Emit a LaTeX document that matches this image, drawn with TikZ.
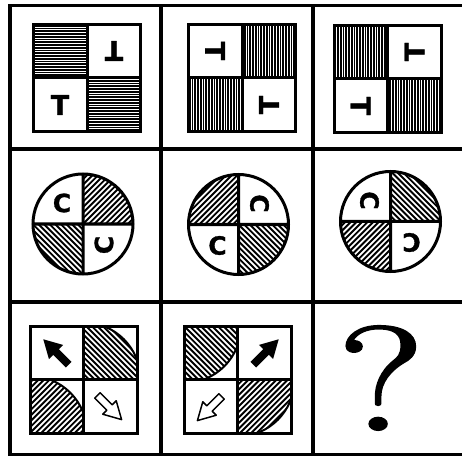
\documentclass[tikz,border=0pt]{standalone}
\usepackage{fontspec}
\usepackage{tikz}
\newfontface\heavysans{DejaVu Sans Bold}[FakeBold=1.2]
\newfontface\qmarkfont{Latin Modern Roman}[FakeBold=1.5]

\newcommand{\hatchin}[2]{%
  \begin{scope}
    \clip #1;
    \foreach \k in {-26,...,26}
      \draw[hatchline] ({\k*5.6-70},{-70*#2}) -- ({\k*5.6+70},{70*#2});
  \end{scope}}
\newcommand{\hstripes}[1]{%
  \begin{scope}
    \clip #1;
    \foreach \k in {-22,...,22}
      \draw[stripe] (-60,{\k*2.75}) -- (60,{\k*2.75});
  \end{scope}}
\newcommand{\vstripes}[1]{%
  \begin{scope}
    \clip #1;
    \foreach \k in {-22,...,22}
      \draw[stripe] ({\k*2.75},-60) -- ({\k*2.75},60);
  \end{scope}}
\newcommand{\arrowpath}{(-18,-4) -- (0,-4) -- (0,-10) -- (18,0) -- (0,10) -- (0,4) -- (-18,4) -- cycle}

\begin{document}
\begin{tikzpicture}[x=1pt,y=1pt,
    gridline/.style={line width=3.2pt},
    frame/.style={line width=3pt},
    stripe/.style={line width=1.6pt},
    hatchline/.style={line width=1.9pt},
    arcline/.style={line width=2pt},
    letter/.style={font=\heavysans\fontsize{27}{27}\selectfont,inner sep=0pt},
    cletter/.style={font=\heavysans\fontsize{25}{25}\selectfont,inner sep=0pt},
    solidarrow/.style={fill=black},
    hollowarrow/.style={fill=white,draw=black,line width=1.5pt,line join=round}]
  \useasboundingbox (0,0) rectangle (462,458);

  % grid
  \draw[gridline] (462,452.5) -- (10,452.5) -- (10,3.5) -- (462,3.5);
  \draw[gridline] (10,309) -- (462,309) (10,156) -- (462,156)
    (161,3.5) -- (161,452.5) (313,3.5) -- (313,452.5);

  % row 1
  \begin{scope}[shift={(87,380)}]
    \hstripes{(-53.5,0) rectangle (0,53.5)}
    \hstripes{(0,-53.5) rectangle (53.5,0)}
    \node[letter,rotate=180] (t11) at (27,27) {T};
    \node[letter] (t12) at (-27,-27) {T};
    \draw[frame] (-53.5,-53.5) rectangle (53.5,53.5) (-53.5,0) -- (53.5,0) (0,-53.5) -- (0,53.5);
  \end{scope}
  \begin{scope}[shift={(242,380)}]
    \vstripes{(0,0) rectangle (53.5,53.5)}
    \vstripes{(-53.5,-53.5) rectangle (0,0)}
    \node[letter,rotate=-90] (t21) at (-27,27) {T};
    \node[letter,rotate=90] (t22) at (27,-27) {T};
    \draw[frame] (-53.5,-53.5) rectangle (53.5,53.5) (-53.5,0) -- (53.5,0) (0,-53.5) -- (0,53.5);
  \end{scope}
  \begin{scope}[shift={(387.5,379)}]
    \vstripes{(-53.5,0) rectangle (0,53.5)}
    \vstripes{(0,-53.5) rectangle (53.5,0)}
    \node[letter,rotate=90] (t31) at (27,27) {T};
    \node[letter,rotate=-90] (t32) at (-27,-27) {T};
    \draw[frame] (-53.5,-53.5) rectangle (53.5,53.5) (-53.5,0) -- (53.5,0) (0,-53.5) -- (0,53.5);
  \end{scope}

  % row 2
  \begin{scope}[shift={(83,234)}]
    \hatchin{(0,0) -- (50,0) arc[start angle=0,end angle=90,radius=50] -- cycle}{1}
    \hatchin{(0,0) -- (-50,0) arc[start angle=180,end angle=270,radius=50] -- cycle}{-1}
    \node[cletter] (c11) at (-21,21) {C};
    \node[cletter,rotate=90] (c12) at (21,-21) {C};
    \draw[frame] (0,0) circle[radius=50] (-50,0) -- (50,0) (0,-50) -- (0,50);
  \end{scope}
  \begin{scope}[shift={(238.5,233.5)}]
    \hatchin{(0,0) -- (0,50) arc[start angle=90,end angle=180,radius=50] -- cycle}{1}
    \hatchin{(0,0) -- (0,-50) arc[start angle=270,end angle=360,radius=50] -- cycle}{-1}
    \node[cletter,rotate=-90] (c21) at (21,21) {C};
    \node[cletter] (c22) at (-21,-21) {C};
    \draw[frame] (0,0) circle[radius=50] (-50,0) -- (50,0) (0,-50) -- (0,50);
  \end{scope}
  \begin{scope}[shift={(390.5,236.5)}]
    \hatchin{(0,0) -- (50,0) arc[start angle=0,end angle=90,radius=50] -- cycle}{-1}
    \hatchin{(0,0) -- (-50,0) arc[start angle=180,end angle=270,radius=50] -- cycle}{1}
    \node[cletter,rotate=-90] (c31) at (-21,21) {C};
    \node[cletter,rotate=180] (c32) at (21,-21) {C};
    \draw[frame] (0,0) circle[radius=50] (-50,0) -- (50,0) (0,-50) -- (0,50);
  \end{scope}

  % row 3
  \begin{scope}[shift={(83.5,78.5)}]
    \begin{scope}
      \clip (0,0) rectangle (53.5,53.5);
      \hatchin{(0,0) circle[radius=57]}{-1}
      \draw[arcline] (0,0) circle[radius=57];
    \end{scope}
    \begin{scope}
      \clip (-53.5,-53.5) rectangle (0,0);
      \hatchin{(-53.5,-53.5) circle[radius=57]}{1}
      \draw[arcline] (-53.5,-53.5) circle[radius=57];
    \end{scope}
    \fill[solidarrow,shift={(-27.5,27.5)},rotate=135] \arrowpath;
    \draw[hollowarrow,shift={(26,-28)},rotate=-45,scale=0.95] \arrowpath;
    \draw[frame] (-53.5,-53.5) rectangle (53.5,53.5) (-53.5,0) -- (53.5,0) (0,-53.5) -- (0,53.5);
  \end{scope}
  \begin{scope}[shift={(237.5,78.5)}]
    \begin{scope}
      \clip (-53.5,0) rectangle (0,53.5);
      \hatchin{(-53.5,53.5) circle[radius=57]}{-1}
      \draw[arcline] (-53.5,53.5) circle[radius=57];
    \end{scope}
    \begin{scope}
      \clip (0,-53.5) rectangle (53.5,0);
      \hatchin{(0,0) circle[radius=57]}{1}
      \draw[arcline] (0,0) circle[radius=57];
    \end{scope}
    \fill[solidarrow,shift={(28.5,27.5)},rotate=45] \arrowpath;
    \draw[hollowarrow,shift={(-28,-29)},rotate=-135,scale=0.95] \arrowpath;
    \draw[frame] (-53.5,-53.5) rectangle (53.5,53.5) (-53.5,0) -- (53.5,0) (0,-53.5) -- (0,53.5);
  \end{scope}
  \node[font=\qmarkfont\fontsize{148}{148}\selectfont,inner sep=0pt,xscale=1.35] (q) at (381,80) {?};
\end{tikzpicture}
\end{document}
